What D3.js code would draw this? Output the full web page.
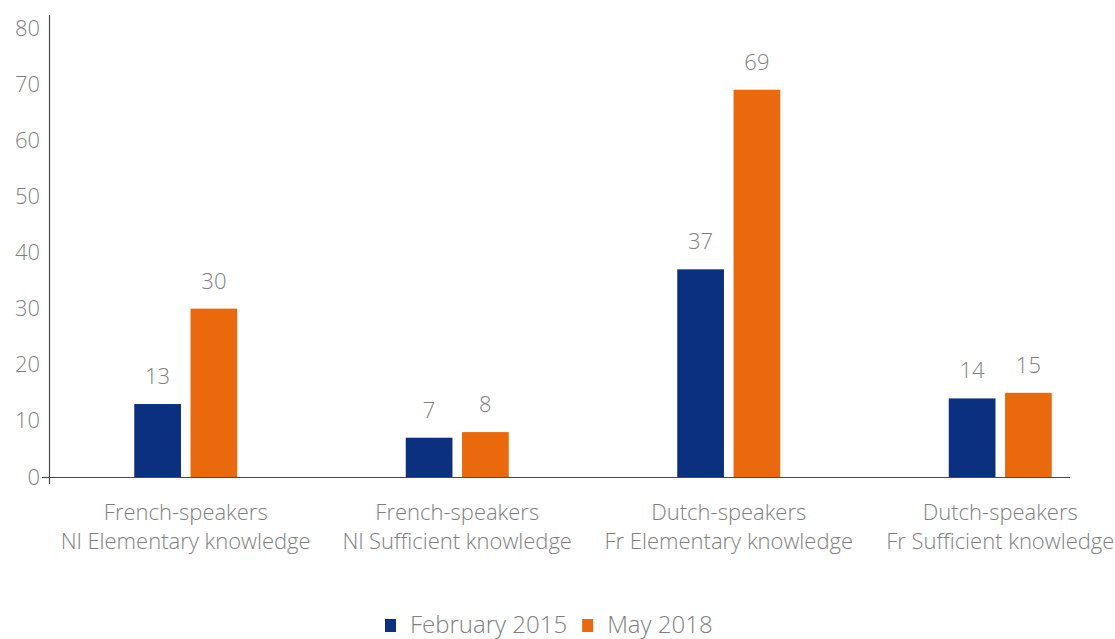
<!DOCTYPE html>
<html>
<head>
<meta charset="utf-8">
<script src="https://cdn.jsdelivr.net/npm/d3@7"></script>
<style>
  html, body { margin: 0; padding: 0; background: #fff; }
  svg { display: block; font-family: "Open Sans", Lato, sans-serif; font-weight: 300; }
</style>
</head>
<body>
<svg id="chart" width="1115" height="639"></svg>
<script>
// Language knowledge by group, share of respondents (%)
const categories = [
  ["French-speakers", "Nl Elementary knowledge"],
  ["French-speakers", "Nl Sufficient knowledge"],
  ["Dutch-speakers", "Fr Elementary knowledge"],
  ["Dutch-speakers", "Fr Sufficient knowledge"]
];
const seriesNames = ["February 2015", "May 2018"];
const feb2015 = [13, 7, 37, 14];
const may2018 = [30, 8, 69, 15];
const yTicks = [0, 10, 20, 30, 40, 50, 60, 70, 80];

const colors = ["#0c3080", "#e9690c"];
const textColor = "#7f7f7f";

const svg = d3.select("#chart");
const series = [feb2015, may2018];

const x = d3.scaleBand()
  .domain(d3.range(categories.length))
  .range([50, 1136])
  .paddingInner(0)
  .paddingOuter(0);

const xInner = d3.scaleBand()
  .domain(d3.range(series.length))
  .range([x.bandwidth() / 2 - 51.5, x.bandwidth() / 2 + 51.5])
  .paddingInner(0.17);

const y = d3.scaleLinear().domain([0, 80]).range([477, 28]);

// y axis
const yAxis = svg.append("g")
  .attr("transform", "translate(49,0)")
  .call(d3.axisLeft(y).tickValues(yTicks).tickSize(0).tickPadding(9));
yAxis.attr("font-family", null).attr("font-size", null);
yAxis.select(".domain").remove();
yAxis.selectAll("text")
  .attr("fill", textColor)
  .style("font-size", "22px");

svg.append("line")
  .attr("x1", 49.5).attr("x2", 49.5)
  .attr("y1", 15).attr("y2", 484)
  .attr("stroke", "#4a4a4a").attr("stroke-width", 1.2);
svg.append("line")
  .attr("x1", 42).attr("x2", 49)
  .attr("y1", y(0) + 0.5).attr("y2", y(0) + 0.5)
  .attr("stroke", "#4a4a4a").attr("stroke-width", 1.2);

// bars
const groups = svg.append("g").selectAll("g")
  .data(categories)
  .join("g")
  .attr("transform", (d, i) => `translate(${x(i)},0)`);

groups.each(function(d, i) {
  const g = d3.select(this);
  series.forEach((s, k) => {
    const v = s[i];
    g.append("rect")
      .attr("x", xInner(k))
      .attr("y", y(v))
      .attr("width", xInner.bandwidth())
      .attr("height", y(0) - y(v))
      .attr("fill", colors[k]);
    g.append("text")
      .attr("x", xInner(k) + xInner.bandwidth() / 2)
      .attr("y", y(v) - 20)
      .attr("text-anchor", "middle")
      .attr("fill", textColor)
      .style("font-size", "22px")
      .text(v);
  });
  const label = g.append("text")
    .attr("x", x.bandwidth() / 2)
    .attr("text-anchor", "middle")
    .attr("fill", textColor)
    .style("font-size", "22px");
  d.forEach((line, j) => {
    label.append("tspan")
      .attr("x", x.bandwidth() / 2)
      .attr("y", 520 + j * 29)
      .text(line);
  });
});

// x axis baseline
svg.append("line")
  .attr("x1", 49).attr("x2", 1070)
  .attr("y1", y(0) + 0.5).attr("y2", y(0) + 0.5)
  .attr("stroke", "#4a4a4a").attr("stroke-width", 1.2);

// legend
const legend = svg.append("g").attr("transform", "translate(385,619)");
let lx = 0;
seriesNames.forEach((name, k) => {
  const item = legend.append("g").attr("transform", `translate(${lx},0)`);
  item.append("rect").attr("width", 11).attr("height", 13).attr("fill", colors[k]);
  const t = item.append("text")
    .attr("x", 25).attr("y", 14)
    .attr("fill", textColor)
    .style("font-size", "24px")
    .text(name);
  lx += 25 + t.node().getComputedTextLength() + 15;
});
</script>
</body>
</html>
